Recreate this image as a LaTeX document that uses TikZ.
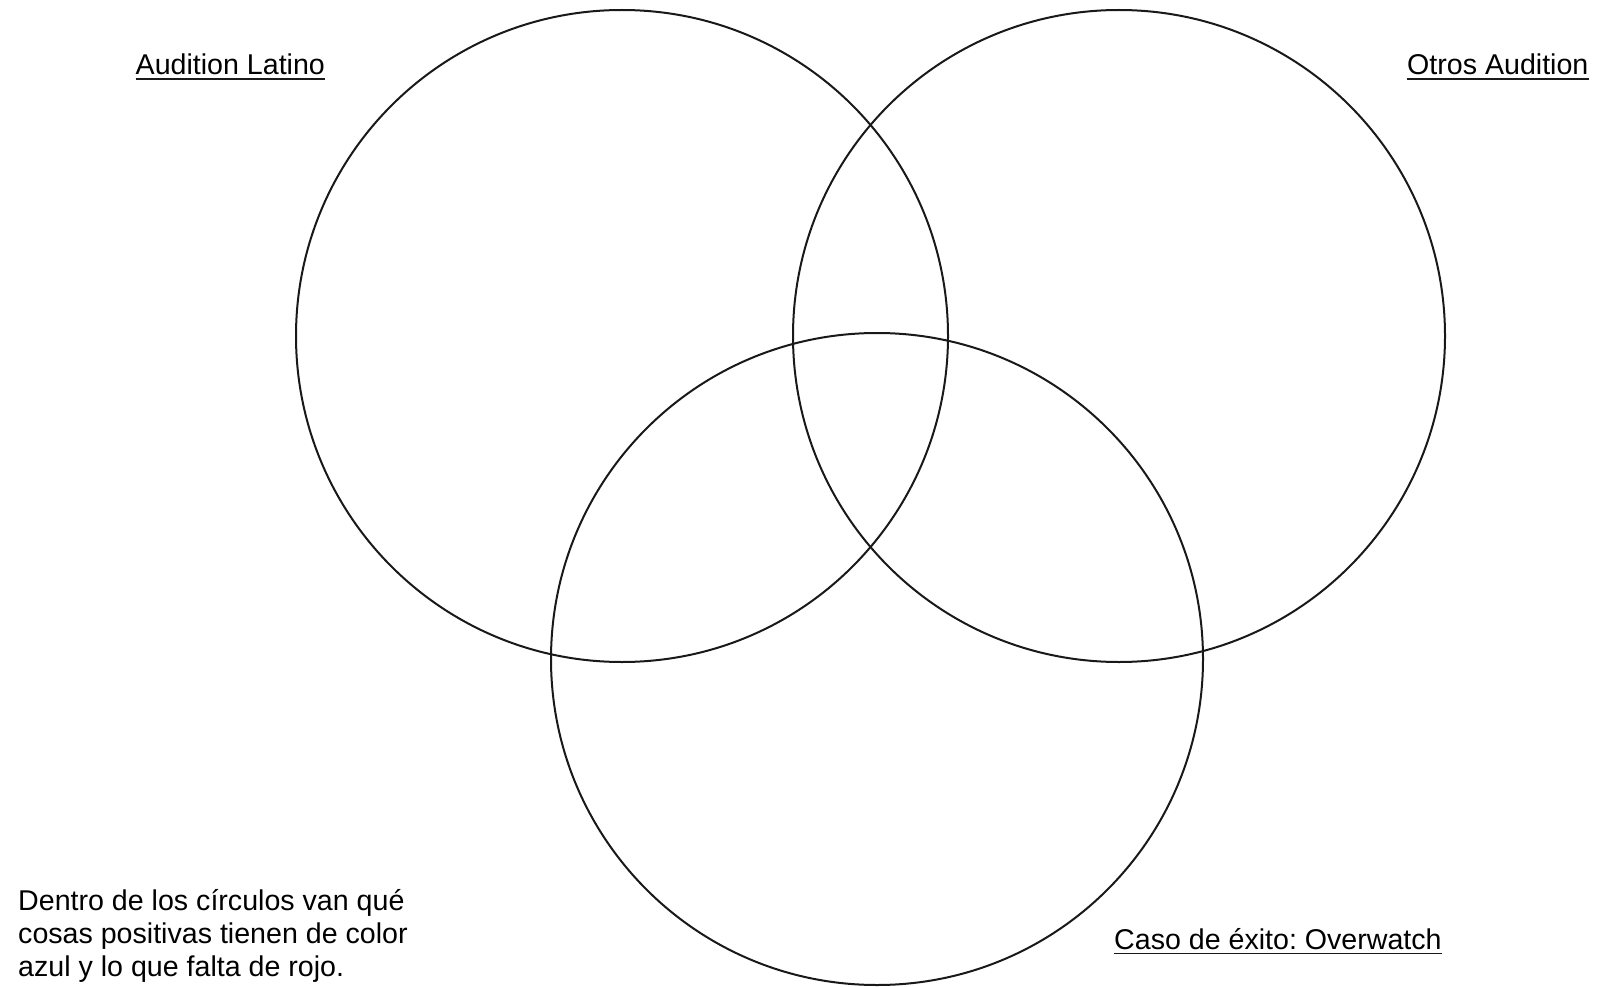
\documentclass[tikz,border=0pt]{standalone}
\usepackage{fontspec}
\setmainfont{Liberation Sans}
\frenchspacing
\usetikzlibrary{positioning}
\tikzset{
  venn/.style={circle, draw=black!90, line width=2pt, minimum size=652pt, inner sep=0pt},
  title/.style={anchor=base west, inner sep=0pt, font=\fontsize{28.6}{33}\selectfont},
  note/.style={anchor=base west, inner sep=0pt, align=left, font=\fontsize{28.6}{33}\selectfont},
  uline/.style={line width=1.8pt, black!90}
}
\begin{document}
\begin{tikzpicture}[x=1pt, y=-1pt]
    \useasboundingbox (0,0) rectangle (1598,987);
    % the three sets
    \foreach \name/\x/\y in {latino/622/336, otros/1119/336, exito/877/659}{
      \node[venn] (\name) at (\x,\y) {};
    }
    % set titles
    \node[title] (tlatino) at (135.5,74.5) {Audition Latino};
    \node[title] (totros) at (1407,74.5) {Otros Audition};
    \node[title] (texito) at (1114,949) {Caso de éxito: Overwatch};
    \foreach \t in {tlatino, totros, texito}{
      \draw[uline] ([yshift=-4.5pt]\t.base west) -- ([yshift=-4.5pt]\t.base east);
    }
    % instructions
    \node[note] (nota) at (18,976) {Dentro de los círculos van qué\\cosas positivas tienen de color\\azul y lo que falta de rojo.};
\end{tikzpicture}
\end{document}
